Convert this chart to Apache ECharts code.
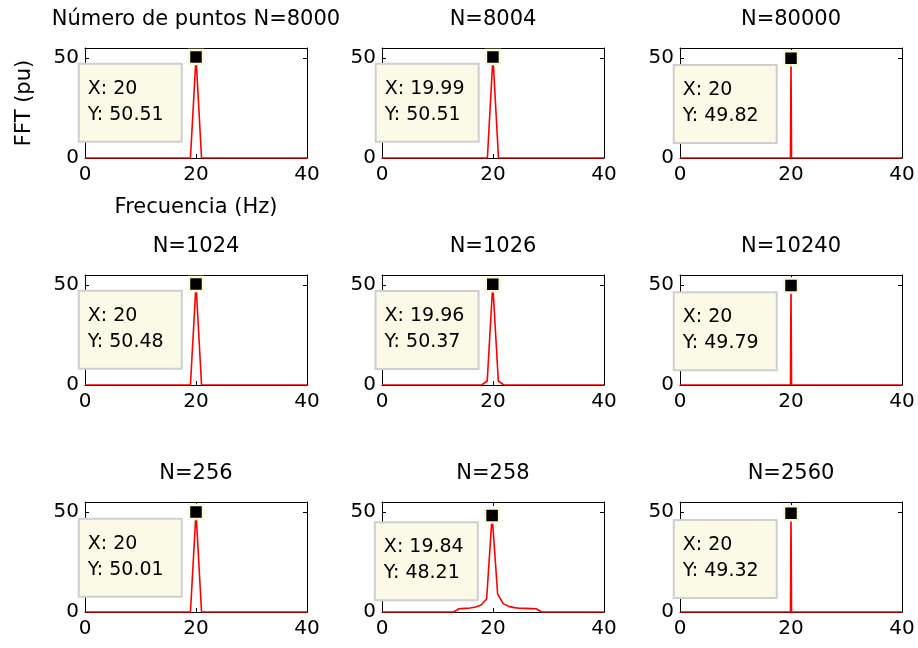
<!DOCTYPE html>
<html><head><meta charset="utf-8">
<script src="https://cdn.jsdelivr.net/npm/echarts@6/dist/echarts.min.js"></script>
<style>html,body{margin:0;padding:0;background:#fff}#c{width:918px;height:648px}</style>
</head><body><div id="c"></div>
<script>
// ---- data ----
const titles = ['Número de puntos N=8000', 'N=8004', 'N=80000', 'N=1024', 'N=1026', 'N=10240', 'N=256', 'N=258', 'N=2560'];
const xTickLabels = [0, 20, 40];
const yTickLabels = [0, 50];

// frequency (Hz) and FFT magnitude (pu) per panel
const f8000 = [0, 19, 20, 21, 40];
const m8000 = [0, 0, 50.51, 0, 0];
const f8004 = [0, 18.99, 19.99, 20.99, 40];
const m8004 = [0, 0, 50.51, 0, 0];
const f80000 = [0, 19.9, 20, 20.1, 40];
const m80000 = [0, 0, 49.82, 0, 0];
const f1024 = [0, 19, 20, 21, 40];
const m1024 = [0, 0, 50.48, 0, 0];
const f1026 = [0, 17.96, 18.96, 19.96, 20.96, 21.96, 40];
const m1026 = [0, 0, 2, 50.37, 2, 0, 0];
const f10240 = [0, 19.9, 20, 20.1, 40];
const m10240 = [0, 0, 49.79, 0, 0];
const f256 = [0, 19, 20, 21, 40];
const m256 = [0, 0, 50.01, 0, 0];
const f258 = [0, 12.90, 13.89, 14.88, 15.88, 16.87, 17.86, 18.85, 19.84, 20.84, 21.83, 22.82, 23.81, 24.81, 25.80, 26.79, 27.78, 28.78, 40];
const m258 = [0, 0, 1.6, 1.8, 2.0, 2.5, 3.5, 6.5, 48.21, 8.9, 4.2, 2.8, 2.2, 1.9, 1.8, 1.7, 1.6, 0, 0];
const f2560 = [0, 19.9, 20, 20.1, 40];
const m2560 = [0, 0, 49.32, 0, 0];

const freqs = [f8000, f8004, f80000, f1024, f1026, f10240, f256, f258, f2560];
const mags = [m8000, m8004, m80000, m1024, m1026, m10240, m256, m258, m2560];

// data tips
const tipX = [20, 19.99, 20, 20, 19.96, 20, 20, 19.84, 20];
const tipY = [50.51, 50.51, 49.82, 50.48, 50.37, 49.79, 50.01, 48.21, 49.32];

// ---- layout ----
const FONT = 'DejaVu Sans';
const colLeft = [85, 382, 680];
const rowTop = [48, 275, 502];
const W = 222, H = 110;

const grids = [], xAxes = [], yAxes = [], series = [], title = [];
for (let i = 0; i < 9; i++) {
  const r = Math.floor(i / 3), c = i % 3;
  grids.push({ left: colLeft[c], top: rowTop[r], width: W, height: H, containLabel: false });
  title.push({
    text: titles[i], left: colLeft[c] + W / 2, top: rowTop[r] - 39, textAlign: 'center', padding: 0,
    textStyle: { fontFamily: FONT, fontSize: 21, fontWeight: 'normal', color: '#000' }
  });
  const lineBlack = { show: true, onZero: false, lineStyle: { color: '#000', width: 1 } };
  const tickIn = { show: true, inside: true, length: 4, lineStyle: { color: '#000', width: 1 } };
  xAxes.push({
    gridIndex: i, type: 'value', position: 'bottom', min: xTickLabels[0], max: xTickLabels[2], interval: xTickLabels[1] - xTickLabels[0],
    axisLine: lineBlack, axisTick: tickIn, splitLine: { show: false },
    axisLabel: { color: '#000', fontFamily: FONT, fontSize: 20, margin: 7 },
    name: i === 0 ? 'Frecuencia (Hz)' : '', nameLocation: 'middle', nameGap: 39,
    nameTextStyle: { color: '#000', fontFamily: FONT, fontSize: 21 }
  });
  xAxes.push({
    gridIndex: i, type: 'value', position: 'top', min: xTickLabels[0], max: xTickLabels[2], interval: xTickLabels[1] - xTickLabels[0],
    axisLine: lineBlack, axisTick: tickIn, splitLine: { show: false }, axisLabel: { show: false }
  });
  yAxes.push({
    gridIndex: i, type: 'value', position: 'left', min: 0, max: 55, interval: yTickLabels[1] - yTickLabels[0],
    axisLine: lineBlack, axisTick: tickIn, splitLine: { show: false },
    axisLabel: { color: '#000', fontFamily: FONT, fontSize: 20, margin: 6, showMaxLabel: false },
    name: i === 0 ? 'FFT (pu)' : '', nameLocation: 'middle', nameGap: 50,
    nameTextStyle: { color: '#000', fontFamily: FONT, fontSize: 21 }
  });
  yAxes.push({
    gridIndex: i, type: 'value', position: 'right', min: 0, max: 55, interval: yTickLabels[1] - yTickLabels[0],
    axisLine: lineBlack, axisTick: tickIn, splitLine: { show: false }, axisLabel: { show: false }
  });
  series.push({
    type: 'line', xAxisIndex: 2 * i, yAxisIndex: 2 * i,
    data: freqs[i].map((f, k) => [f, mags[i][k]]),
    symbol: 'none', lineStyle: { color: '#ff0000', width: 1.6 }, z: 3
  });
  series.push({
    type: 'scatter', xAxisIndex: 2 * i, yAxisIndex: 2 * i,
    data: [[tipX[i], tipY[i]]],
    symbol: 'rect', symbolSize: 14,
    itemStyle: { color: '#000', borderColor: '#fcf9d8', borderWidth: 2.5, opacity: 1 },
    emphasis: { disabled: true },
    z: 5,
    label: {
      show: true, position: [-108, 16], align: 'left', verticalAlign: 'top',
      formatter: p => 'X: ' + p.value[0] + '\nY: ' + p.value[1].toFixed(2),
      fontFamily: FONT, fontSize: 19, color: '#000', lineHeight: 26, opacity: 1,
      backgroundColor: '#fafae6', borderColor: '#cfcfcf', borderWidth: 2,
      padding: [11, 4, 13, 8], width: 89
    }
  });
}

const chart = echarts.init(document.getElementById('c'), null, { renderer: 'canvas' });
chart.setOption({
  animation: false, backgroundColor: '#fff',
  title, grid: grids, xAxis: xAxes, yAxis: yAxes, series
});
</script>
</body></html>
